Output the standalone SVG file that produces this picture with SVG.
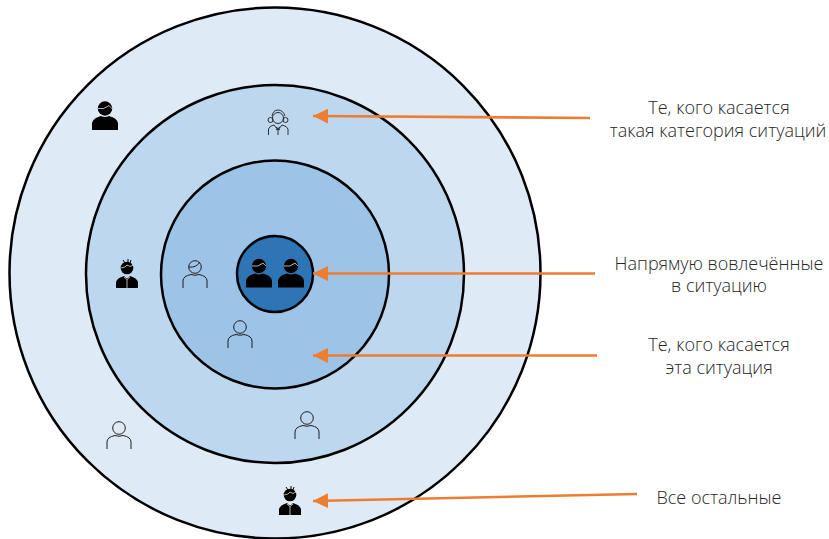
<svg xmlns="http://www.w3.org/2000/svg" xmlns:xlink="http://www.w3.org/1999/xlink" width="829" height="539" viewBox="0 0 829 539">
<style>
.ring{stroke:#000;stroke-width:2.5}
.lbl{font-family:"Open Sans","Noto Sans",sans-serif;font-size:18px;font-weight:300;fill:#262626;text-anchor:middle}
.conn{stroke:#ed7d31;stroke-width:2.6;fill:none;marker-end:url(#ah)}
.out{fill:none;stroke:#1f1f1f;stroke-width:1}
</style>
<defs>
<marker id="ah" markerUnits="userSpaceOnUse" markerWidth="16" markerHeight="16" refX="15" refY="7.500" orient="auto"><path d="M15 7.500L0 0V15Z" fill="#ed7d31"/></marker>
<g id="plain"><circle cx="0" cy="-8" r="6.300"/><path d="M-12 13V6Q-12 1-4-.5Q0 1 4-.5Q12 1 12 6V13"/></g>
<g id="solid"><circle cx="0" cy="-8.500" r="7.200" fill="#000"/><path d="M-7-8.500Q-1-7 4-11.500Q6-9 7-8.500" stroke="#fff" stroke-width=".7" fill="none"/><path d="M-13 13V6Q-12 1-4-1Q0 1 4-1Q12 1 13 6V13Z" fill="#000"/></g>
<g id="suit"><circle cx="0" cy="-8" r="6.300" fill="#000"/><path d="M-6-8L-2-9L0-11L3-9.500L6-11" stroke="#fff" stroke-width=".7" fill="none"/><path d="M-4-16L-2-13M1-17L1-13M4-16L3-13" stroke="#000"/><path d="M-11 12V6Q-10 2-3 0L-1 2H1L3 0Q10 2 11 6V12Z" fill="#000"/><path d="M-3 1L0 3.500L3 1M0 3.500V12" stroke="#fff" stroke-width=".7" fill="none"/></g>
</defs>
<rect width="829" height="539" fill="#fff"/>
<g id="rings">
<circle id="ring-outer" class="ring" cx="275" cy="273" r="265.500" fill="#deeaf6"/>
<circle id="ring-middle" class="ring" cx="275" cy="274" r="189" fill="#bdd7ee"/>
<circle id="ring-inner" class="ring" cx="275" cy="274.500" r="114" fill="#9dc3e6"/>
<circle id="ring-core" class="ring" cx="275" cy="274" r="38" fill="#2e75b6" stroke-width="3"/>
</g>
<g id="node-core-people"><use xlink:href="#solid" x="259" y="274.500"/><use xlink:href="#solid" x="291" y="274.500"/></g>
<g id="node-solid"><use xlink:href="#solid" x="105" y="117"/></g>
<g id="node-girl" fill="none" stroke="#1f1f1f" stroke-width=".9">
<circle cx="278" cy="118" r="5.500"/><path d="M272 116Q273 110 278 110Q283 110 285 116"/><circle cx="270.500" cy="120" r="2.500"/><circle cx="285.500" cy="120" r="2.500"/><path d="M268.500 135V129Q269 126 274 125L278 130L282 125Q287 126 288 129V135M276 127L280 130M280 127L276 130M278 130V135"/>
</g>
<g id="node-suit-left"><use xlink:href="#suit" x="127" y="276"/></g>
<g id="node-man-hair" class="out"><use xlink:href="#plain" x="195" y="275"/><path d="M189 267Q196 268 200 262"/></g>
<g id="node-plain-1" class="out"><use xlink:href="#plain" x="240" y="335"/></g>
<g id="node-plain-2" class="out"><use xlink:href="#plain" x="307" y="426"/></g>
<g id="node-plain-3" class="out"><use xlink:href="#plain" x="119" y="436"/></g>
<g id="node-suit-bottom"><use xlink:href="#suit" x="290" y="503"/></g>
<g id="connectors">
<path class="conn" d="M590 118L313 116"/>
<path class="conn" d="M595 273.500L313 273.500"/>
<path class="conn" d="M597 355.500L313 355.500"/>
<path class="conn" d="M637 494L313 501"/>
</g>
<g id="labels">
<text class="lbl" x="719" y="114">Те, кого касается</text>
<text class="lbl" x="718" y="137">такая категория ситуаций</text>
<text class="lbl" x="719" y="270">Напрямую вовлечённые</text>
<text class="lbl" x="719" y="292">в ситуацию</text>
<text class="lbl" x="719" y="351">Те, кого касается</text>
<text class="lbl" x="719" y="374">эта ситуация</text>
<text class="lbl" x="719" y="504">Все остальные</text>
</g>
</svg>
